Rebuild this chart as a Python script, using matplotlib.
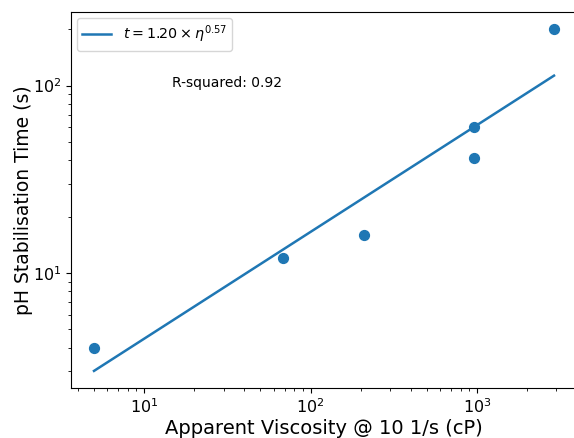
import numpy as np
import matplotlib
matplotlib.use('Agg')
import matplotlib.pyplot as plt

# viscosity (cP) and pH stabilisation time (s)
viscosity = [5, 68, 210, 960, 960, 2900]
stab_time = [4.0, 12, 16, 60, 41, 200]

# power-law fit t = a * eta^b
fit_a = 1.20
fit_b = 0.57
r_squared = 0.92

fig = plt.figure(figsize=(5.74, 4.38), dpi=100)
ax = fig.add_axes([71 / 574, 50 / 438, 506 / 574, 376 / 438])

ax.scatter(viscosity, stab_time, s=50, color='#1f77b4')
x_line = np.logspace(np.log10(min(viscosity)), np.log10(max(viscosity)), 100)
ax.plot(x_line, fit_a * x_line ** fit_b, color='#1f77b4', lw=1.8,
        label=r'$t = %.2f \times \eta^{%.2f}$' % (fit_a, fit_b))
ax.set_xscale('log')
ax.set_yscale('log')

ax.text(0.2, 0.8, 'R-squared: %.2f' % r_squared, transform=ax.transAxes, fontsize=10)
ax.set_xlabel('Apparent Viscosity @ 10 1/s (cP)', fontsize=14, labelpad=2)
ax.set_ylabel('pH Stabilisation Time (s)', fontsize=13.5, labelpad=0)
ax.tick_params(labelsize=11.5)
ax.legend(loc='upper left', fontsize=10.3, borderaxespad=0.4)

fig.savefig('out.png', dpi=100)
